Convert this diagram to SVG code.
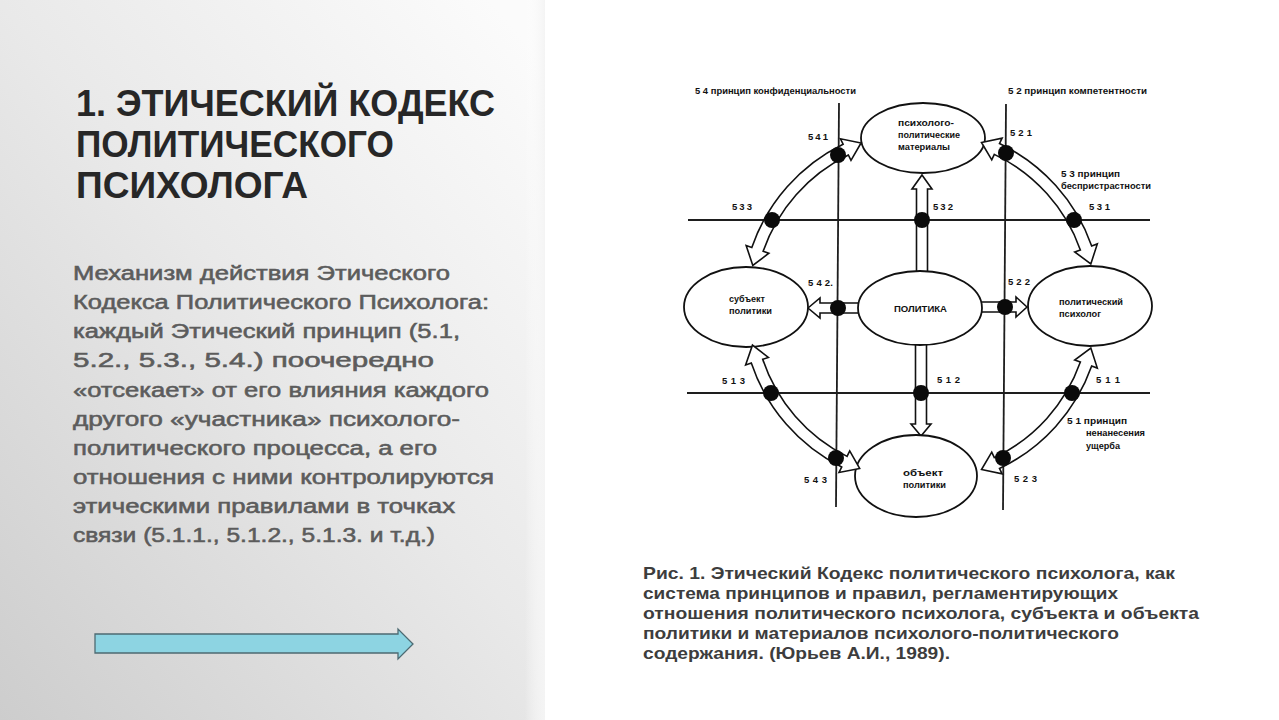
<svg xmlns="http://www.w3.org/2000/svg" width="1279" height="720" viewBox="0 0 1279 720">
<defs>
<linearGradient id="bg" x1="0" y1="1" x2="0.9" y2="0">
<stop offset="0" stop-color="#cdcdcd"/>
<stop offset="0.55" stop-color="#e9e9e9"/>
<stop offset="1" stop-color="#fbfbfb"/>
</linearGradient>
<linearGradient id="edge" x1="0" y1="0" x2="1" y2="0">
<stop offset="0" stop-color="#ffffff" stop-opacity="0"/>
<stop offset="1" stop-color="#f4f4f4" stop-opacity="1"/>
</linearGradient>
<path id="arc" d="M174,0 L185.14,17.83 L179.17,17.25 A180,180 0 0 1 114.49,138.89 L118.31,143.52 L97.30,144.25 L103.04,125.00 L106.86,129.63 A168,168 0 0 0 167.23,16.10 L161.25,15.53 Z"/>
</defs>
<style>
.title{font-family:"Liberation Sans",Arial,sans-serif;font-weight:bold;font-size:37px;fill:#272727}
.body{font-family:"Liberation Sans",Arial,sans-serif;font-size:20px;fill:#5c5c5c;stroke:#5c5c5c;stroke-width:0.55}
.cap{font-family:"Liberation Sans",Arial,sans-serif;font-weight:bold;font-size:16.5px;fill:#3d3d3d}
.lbl{font-family:"Liberation Sans",Arial,sans-serif;font-weight:bold;font-size:9px;fill:#111}
.num{font-family:"Liberation Sans",Arial,sans-serif;font-weight:bold;font-size:9.5px;fill:#111}
.node{fill:#fff;stroke:#111;stroke-width:1.8}
.arr{fill:#fff;stroke:#111;stroke-width:1.6;stroke-linejoin:miter}
.grid{stroke:#1e1e1e;stroke-width:1.8;fill:none}
.dot{fill:#0a0a0a}
</style>
<rect width="1279" height="720" fill="#ffffff"/>
<rect x="0" y="0" width="545" height="720" fill="url(#bg)"/>
<rect x="525" y="0" width="20" height="720" fill="url(#edge)"/>

<g id="title">
<text class="title" x="76" y="116" textLength="419" lengthAdjust="spacingAndGlyphs">1. ЭТИЧЕСКИЙ КОДЕКС</text>
<text class="title" x="76" y="157" textLength="318" lengthAdjust="spacingAndGlyphs">ПОЛИТИЧЕСКОГО</text>
<text class="title" x="76" y="198" textLength="232" lengthAdjust="spacingAndGlyphs">ПСИХОЛОГА</text>
</g>

<g id="body-text">
<text class="body" x="73" y="280" textLength="377" lengthAdjust="spacingAndGlyphs">Механизм действия Этического</text>
<text class="body" x="73" y="309" textLength="416" lengthAdjust="spacingAndGlyphs">Кодекса Политического Психолога:</text>
<text class="body" x="73" y="338" textLength="387" lengthAdjust="spacingAndGlyphs">каждый Этический принцип (5.1,</text>
<text class="body" x="73" y="367" textLength="361" lengthAdjust="spacingAndGlyphs">5.2., 5.3., 5.4.) поочередно</text>
<text class="body" x="73" y="397" textLength="416" lengthAdjust="spacingAndGlyphs">«отсекает» от его влияния каждого</text>
<text class="body" x="73" y="426" textLength="387" lengthAdjust="spacingAndGlyphs">другого «участника» психолого-</text>
<text class="body" x="73" y="455" textLength="364" lengthAdjust="spacingAndGlyphs">политического процесса, а его</text>
<text class="body" x="73" y="484" textLength="421" lengthAdjust="spacingAndGlyphs">отношения с ними контролируются</text>
<text class="body" x="73" y="513" textLength="382" lengthAdjust="spacingAndGlyphs">этическими правилами в точках</text>
<text class="body" x="73" y="542" textLength="362" lengthAdjust="spacingAndGlyphs">связи (5.1.1., 5.1.2., 5.1.3. и т.д.)</text>
</g>

<g id="nav-arrow">
<path d="M95,634 L398,634 L398,629 L413,644 L398,659 L398,653 L95,653 Z" fill="#8dd4e2" stroke="#4d6a72" stroke-width="1.3"/>
</g>

<g id="connectors">
<g id="grid">
<line class="grid" x1="688" y1="220" x2="1150" y2="220"/>
<line class="grid" x1="687" y1="393" x2="1150" y2="393"/>
<line class="grid" x1="839" y1="103" x2="836" y2="507"/>
<line class="grid" x1="1006" y1="104" x2="1003" y2="510"/>
</g>
<path class="arr" d="M922,175 L932,189 L927.5,189 L927.5,275 L916.5,275 L916.5,189 L912,189 Z"/>
<path class="arr" d="M921,436 L931,424 L926.5,424 L926.5,341 L915.5,341 L915.5,424 L911,424 Z"/>
<path class="arr" d="M808,308 L820,298 L820,303 L862,303 L862,313 L820,313 L820,318 Z"/>
<path class="arr" d="M1027,307 L1016,297 L1016,302 L978,302 L978,312 L1016,312 L1016,317 Z"/>
</g>

<g id="node-materials">
<ellipse class="node" cx="923" cy="138" rx="62" ry="35"/>
<text class="lbl" x="898" y="126" textLength="56" lengthAdjust="spacingAndGlyphs">психолого-</text>
<text class="lbl" x="898" y="138" textLength="62" lengthAdjust="spacingAndGlyphs">политические</text>
<text class="lbl" x="898" y="150" textLength="52" lengthAdjust="spacingAndGlyphs">материалы</text>
</g>
<g id="node-politics">
<ellipse class="node" cx="920" cy="308" rx="62" ry="37"/>
<text class="lbl" x="894" y="312" textLength="53" lengthAdjust="spacingAndGlyphs">ПОЛИТИКА</text>
</g>
<g id="node-subject">
<ellipse class="node" cx="746" cy="307" rx="62" ry="40"/>
<text class="lbl" x="729" y="302" textLength="36" lengthAdjust="spacingAndGlyphs">субъект</text>
<text class="lbl" x="729" y="314" textLength="43" lengthAdjust="spacingAndGlyphs">политики</text>
</g>
<g id="node-psychologist">
<ellipse class="node" cx="1090" cy="306" rx="62" ry="40"/>
<text class="lbl" x="1059" y="305" textLength="64" lengthAdjust="spacingAndGlyphs">политический</text>
<text class="lbl" x="1059" y="317" textLength="42" lengthAdjust="spacingAndGlyphs">психолог</text>
</g>
<g id="node-object">
<ellipse class="node" cx="916" cy="476" rx="61" ry="41"/>
<text class="lbl" x="903" y="476" textLength="40" lengthAdjust="spacingAndGlyphs">объект</text>
<text class="lbl" x="903" y="488" textLength="43" lengthAdjust="spacingAndGlyphs">политики</text>
</g>

<g id="arc-connectors">
<use href="#arc" class="arr" transform="translate(922 306) rotate(193.5)"/>
<use href="#arc" class="arr" transform="translate(922 306) rotate(290)"/>
<use href="#arc" class="arr" transform="translate(922 306) rotate(14)"/>
<use href="#arc" class="arr" transform="translate(922 306) rotate(111)"/>
</g>

<g id="points">
<circle class="dot" cx="838" cy="155" r="8"/>
<circle class="dot" cx="772" cy="220" r="8"/>
<circle class="dot" cx="922" cy="220" r="8"/>
<circle class="dot" cx="1006" cy="153" r="8"/>
<circle class="dot" cx="1074" cy="220" r="8"/>
<circle class="dot" cx="838" cy="308" r="8"/>
<circle class="dot" cx="1005" cy="307" r="8"/>
<circle class="dot" cx="771" cy="393" r="8"/>
<circle class="dot" cx="921" cy="393" r="8"/>
<circle class="dot" cx="1072" cy="393" r="8"/>
<circle class="dot" cx="836" cy="458" r="8"/>
<circle class="dot" cx="1003" cy="458" r="8"/>
</g>

<g id="labels">
<text class="lbl" x="695" y="94" textLength="161" lengthAdjust="spacingAndGlyphs">5 4  принцип конфиденциальности</text>
<text class="lbl" x="1008" y="94" textLength="139" lengthAdjust="spacingAndGlyphs">5 2  принцип компетентности</text>
<text class="num" x="808" y="140" textLength="20" lengthAdjust="spacing">5 4 1</text>
<text class="num" x="732" y="210" textLength="20" lengthAdjust="spacing">5 3 3</text>
<text class="num" x="933" y="210" textLength="20" lengthAdjust="spacing">5 3 2</text>
<text class="num" x="1010" y="136" textLength="22" lengthAdjust="spacing">5 2 1</text>
<text class="lbl" x="1061" y="177" textLength="59" lengthAdjust="spacingAndGlyphs">5 3  принцип</text>
<text class="lbl" x="1061" y="189" textLength="90" lengthAdjust="spacingAndGlyphs">беспристрастности</text>
<text class="num" x="1089" y="210" textLength="21" lengthAdjust="spacing">5 3 1</text>
<text class="num" x="808" y="286" textLength="25" lengthAdjust="spacing">5 4 2.</text>
<text class="num" x="1008" y="285" textLength="22" lengthAdjust="spacing">5 2 2</text>
<text class="num" x="722" y="384" textLength="23" lengthAdjust="spacing">5 1 3</text>
<text class="num" x="937" y="383" textLength="23" lengthAdjust="spacing">5 1 2</text>
<text class="num" x="1096" y="383" textLength="24" lengthAdjust="spacing">5 1 1</text>
<text class="lbl" x="1067" y="424" textLength="60" lengthAdjust="spacingAndGlyphs">5 1  принцип</text>
<text class="lbl" x="1086" y="436" textLength="59" lengthAdjust="spacingAndGlyphs">ненанесения</text>
<text class="lbl" x="1086" y="449" textLength="34" lengthAdjust="spacingAndGlyphs">ущерба</text>
<text class="num" x="804" y="483" textLength="23" lengthAdjust="spacing">5 4 3</text>
<text class="num" x="1014" y="482" textLength="23" lengthAdjust="spacing">5 2 3</text>
</g>

<g id="caption">
<text class="cap" x="643" y="579" textLength="532" lengthAdjust="spacingAndGlyphs">Рис. 1. Этический Кодекс политического психолога, как</text>
<text class="cap" x="643" y="599" textLength="475" lengthAdjust="spacingAndGlyphs">система принципов и правил, регламентирующих</text>
<text class="cap" x="643" y="619" textLength="556" lengthAdjust="spacingAndGlyphs">отношения политического психолога, субъекта и объекта</text>
<text class="cap" x="643" y="639" textLength="476" lengthAdjust="spacingAndGlyphs">политики и материалов психолого-политического</text>
<text class="cap" x="643" y="659" textLength="307" lengthAdjust="spacingAndGlyphs">содержания. (Юрьев А.И., 1989).</text>
</g>
</svg>
